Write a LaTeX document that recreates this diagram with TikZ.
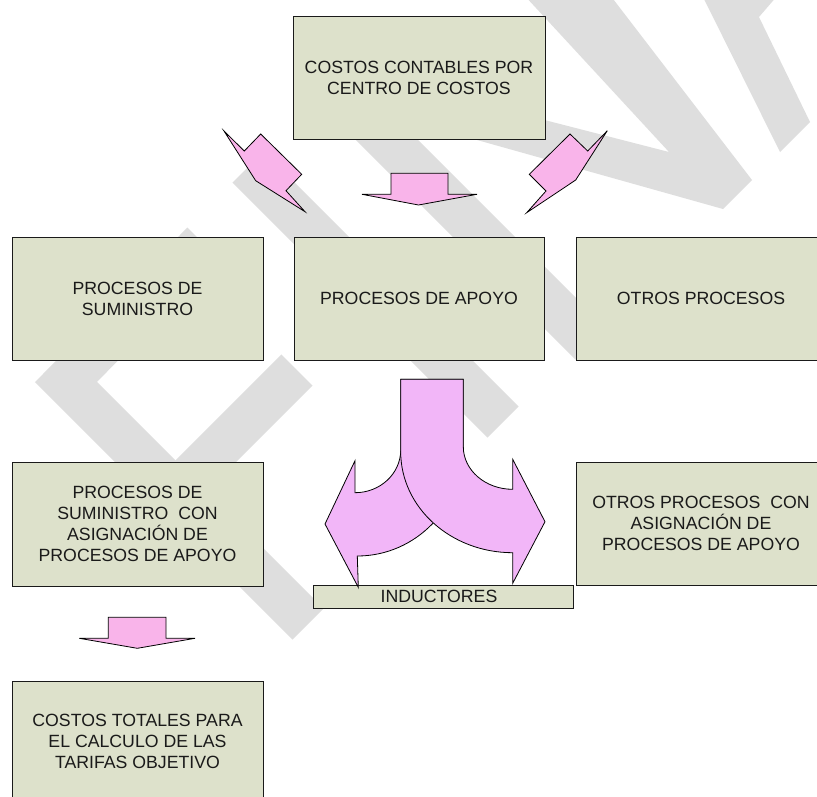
\documentclass[tikz,border=0pt]{standalone}
\usepackage{fontspec}
\setmainfont{Liberation Sans}
\definecolor{boxfill}{HTML}{DDE1CB}
\definecolor{pinkA}{HTML}{F9B4EA}
\definecolor{pinkB}{HTML}{F2B6F8}
\definecolor{wm}{HTML}{DEDEDE}
\definecolor{ink}{HTML}{1A1A1A}
\tikzset{
  box/.style={draw=ink, line width=0.9pt, fill=boxfill, inner sep=0pt, align=center,
    font=\fontsize{17.7}{21}\selectfont, text=ink},
  blockarrow/.style={draw=black, line width=0.8pt, line join=miter, fill=pinkA},
  bigarrow/.style={draw=black, line width=0.8pt, line join=miter, fill=pinkB},
  wmband/.style={draw=wm, line width=44pt, line cap=butt, line join=miter},
  wmshape/.style={fill=wm, draw=none},
}
\begin{document}
\begin{tikzpicture}[x=1pt,y=-1pt]
\useasboundingbox (0,0) rectangle (817,796);
\begin{scope}
\clip (0,0) rectangle (817,796);
% ---- watermark ----
\draw[wmband] (248,167) -- (503,422);
\draw[wmband] (203,243) -- (66,382) -- (308,624);
\draw[wmband] (297,370) -- (175,492);
\draw[wmband] (330,83) -- (591,344);
\fill[wmshape] (524,-5) -- (610,-5) -- (752,180) -- (723,209) -- (420,124) -- (420,88) -- (669,152) -- cycle;
\fill[wmshape] (702,-5) -- (778,-5) -- (759,17) -- (810,122) -- (780,152) -- cycle;
% ---- boxes ----
\node[box, minimum width=252pt, minimum height=123pt] (top) at (419,77.5) {COSTOS CONTABLES POR\\CENTRO DE COSTOS};
\node[box, minimum width=251pt, minimum height=123pt] (sumin) at (137.5,298.5) {PROCESOS DE\\SUMINISTRO};
\node[box, minimum width=250pt, minimum height=123pt] (apoyo) at (419,298.5) {PROCESOS DE APOYO};
\node[box, minimum width=250pt, minimum height=123pt] (otros) at (701,298.5) {OTROS PROCESOS};
\node[box, minimum width=251pt, minimum height=124pt] (suminasig) at (137.5,524) {PROCESOS DE\\SUMINISTRO~~CON\\ASIGNACIÓN DE\\PROCESOS DE APOYO};
\node[box, minimum width=250pt, minimum height=123pt] (otrosasig) at (701,523.5) {OTROS PROCESOS~~CON\\ASIGNACIÓN DE\\PROCESOS DE APOYO};
\node[box, minimum width=260pt, minimum height=23pt] (induct) at (443,596.5) {\hspace*{-8pt}\raisebox{-3pt}{INDUCTORES}};
\node[box, minimum width=251pt, minimum height=121pt] (total) at (137.5,741.5) {COSTOS TOTALES PARA\\EL CALCULO DE LAS\\TARIFAS OBJETIVO};
% ---- block arrows ----
\draw[blockarrow] (224,131) -- (244.3,151) -- (260.7,134) -- (301.7,174.3) -- (286,190.7) -- (305,211.7) -- (255.7,180.7) -- cycle;
\draw[blockarrow] (607.3,130.7) -- (587.7,151) -- (570,134) -- (529.3,174.3) -- (546,191) -- (526.7,212.7) -- (575.7,180) -- cycle;
\draw[blockarrow] (391,173.3) -- (448,173.3) -- (448,194.3) -- (477,194.3) -- (418.5,205) -- (362,194.3) -- (391,194.3) -- cycle;
\draw[blockarrow] (108.3,617.3) -- (166,617.3) -- (166,638.3) -- (195,638.3) -- (137.3,648.3) -- (79.3,638.3) -- (108.3,638.3) -- cycle;
% ---- split arrow ----
\draw[bigarrow] (400.7,379.3) -- (463.3,379.3) -- (463.3,446.7)
  .. controls (463.3,507) and (415.8,556) .. (357.3,556)
  -- (358.3,587.3) -- (325,524) -- (355,460.7) -- (355,492.7)
  .. controls (380.2,492.7) and (400.7,473.6) .. (400.7,450) -- cycle;
\draw[bigarrow] (400.7,379.3) -- (463.3,379.3) -- (463.3,446.7)
  .. controls (463.3,470.2) and (485.4,489.3) .. (512.7,489.3)
  -- (512.7,459.3) -- (545,521.7) -- (512.7,583.3) -- (512.7,552.7)
  .. controls (450.9,552.7) and (400.7,507.5) .. (400.7,451.7) -- cycle;
\end{scope}
\end{tikzpicture}
\end{document}
